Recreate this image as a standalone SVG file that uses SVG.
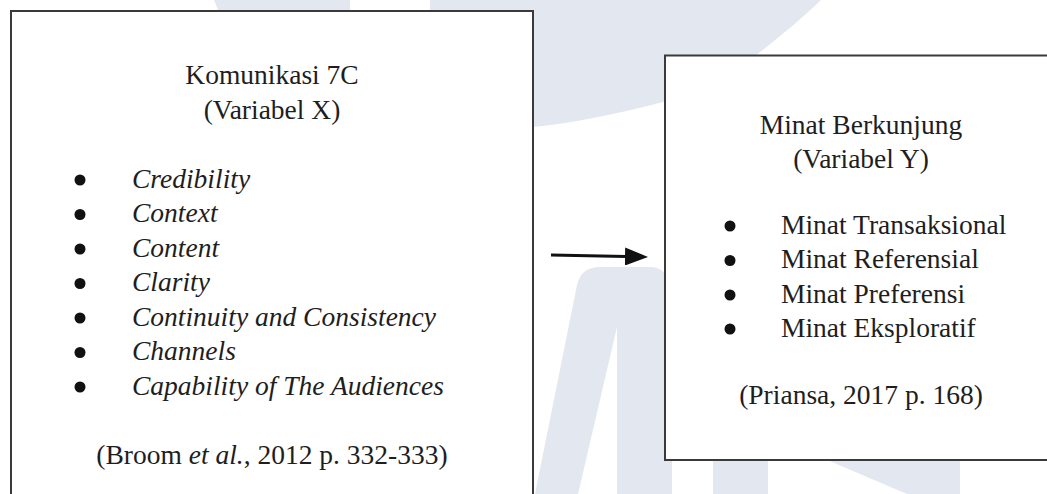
<svg xmlns="http://www.w3.org/2000/svg" width="1047" height="494" viewBox="0 0 1047 494">
<style>
  .wm { fill: #e3e7ef; }
  .box { fill: #ffffff; stroke: #3a3a3a; stroke-width: 2; }
  .t { font-family: "Liberation Serif", "Times New Roman", serif; font-size: 27.5px; fill: #1e1e1e; }
  .c { text-anchor: middle; }
  .i { font-style: italic; }
  .dot { fill: #111; }
  .conn { stroke: #111; stroke-width: 3; fill: none; }
</style>
<defs>
  <marker id="arrow" markerUnits="userSpaceOnUse" markerWidth="24" markerHeight="18" viewBox="0 0 24 18" refX="1" refY="9" orient="auto">
    <path d="M0,0 L23,9 L0,18 Z" fill="#111"/>
  </marker>
</defs>
<rect width="1047" height="494" fill="#ffffff"/>
<g id="watermark">
  <polygon class="wm" points="214,0 350,0 350,20 222,20"/>
  <path class="wm" d="M430,0 L821,0 C790,30 740,70 700,92 C650,106 580,124 520,128 L430,128 Z"/>
  <path class="wm" d="M535,494 L577,285 Q581,267 600,267 L650,267 Q668,267 672,290 L672,494 L617,494 L617,327 L578,494 Z"/>
  <rect class="wm" x="713" y="300" width="55" height="194"/>
  <polygon class="wm" points="799,448 907,494 960,494 960,440 799,440"/>
</g>
<g id="node-x">
  <rect class="box" x="11" y="11" width="522" height="500"/>
  <text class="t c" x="272" y="84">Komunikasi 7C</text>
  <text class="t c" x="272" y="119">(Variabel X)</text>
  <circle class="dot" cx="80" cy="180" r="5.5"/>
  <circle class="dot" cx="80" cy="214.5" r="5.5"/>
  <circle class="dot" cx="80" cy="249" r="5.5"/>
  <circle class="dot" cx="80" cy="283.5" r="5.5"/>
  <circle class="dot" cx="80" cy="318" r="5.5"/>
  <circle class="dot" cx="80" cy="352.5" r="5.5"/>
  <circle class="dot" cx="80" cy="387" r="5.5"/>
  <text class="t i" x="132" y="187.5">Credibility</text>
  <text class="t i" x="132" y="222">Context</text>
  <text class="t i" x="132" y="256.5">Content</text>
  <text class="t i" x="132" y="291">Clarity</text>
  <text class="t i" x="132" y="325.5">Continuity and Consistency</text>
  <text class="t i" x="132" y="360">Channels</text>
  <text class="t i" x="132" y="394.5">Capability of The Audiences</text>
  <text class="t c" x="272" y="464">(Broom <tspan class="i">et al.</tspan>, 2012 p. 332-333)</text>
</g>
<g id="node-y">
  <rect class="box" x="665" y="55.5" width="400" height="404.5"/>
  <text class="t c" x="861" y="134">Minat Berkunjung</text>
  <text class="t c" x="861" y="168">(Variabel Y)</text>
  <circle class="dot" cx="730" cy="226" r="5.5"/>
  <circle class="dot" cx="730" cy="260.5" r="5.5"/>
  <circle class="dot" cx="730" cy="295" r="5.5"/>
  <circle class="dot" cx="730" cy="329" r="5.5"/>
  <text class="t" x="781" y="233.5">Minat Transaksional</text>
  <text class="t" x="781" y="268">Minat Referensial</text>
  <text class="t" x="781" y="302.5">Minat Preferensi</text>
  <text class="t" x="781" y="336.5">Minat Eksploratif</text>
  <text class="t c" x="861" y="403.5">(Priansa, 2017 p. 168)</text>
</g>
<g id="connectors">
  <line class="conn" x1="551" y1="255" x2="626" y2="256.5" marker-end="url(#arrow)"/>
</g>
</svg>
